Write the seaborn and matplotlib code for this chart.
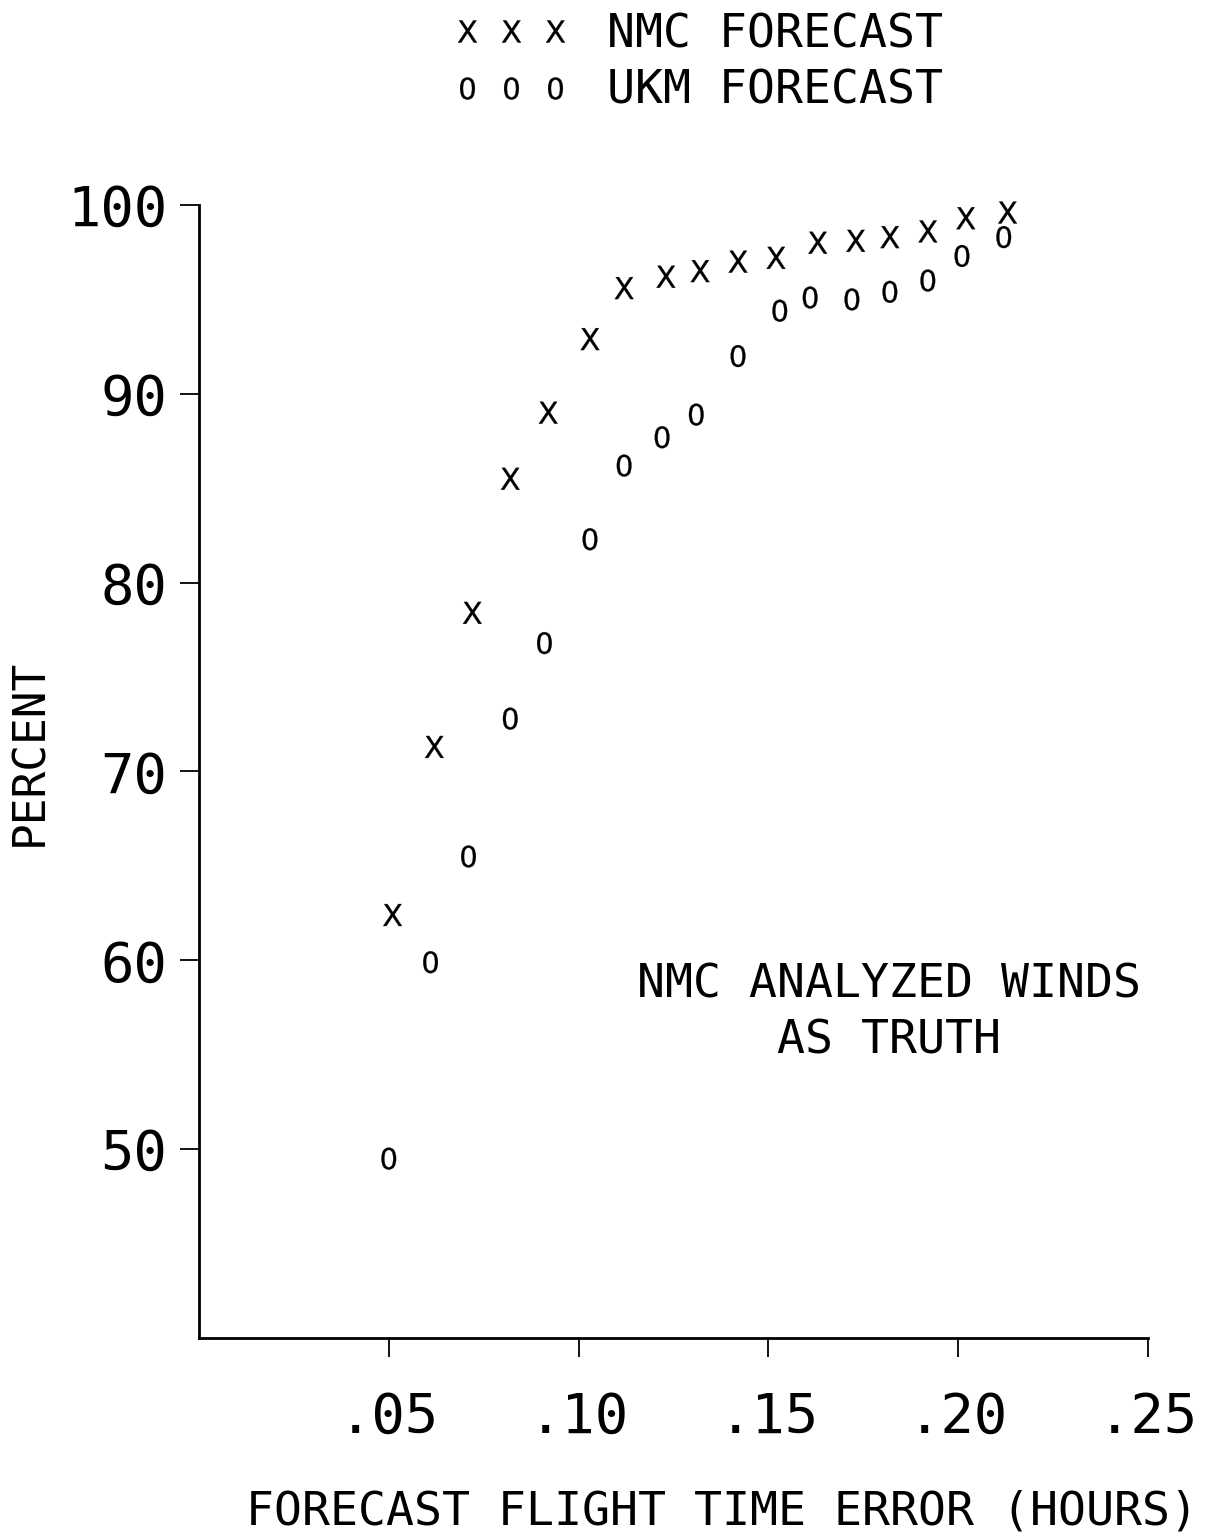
import numpy as np
import pandas as pd
import matplotlib.pyplot as plt
import seaborn as sns

# values
nmc_x = [0.051, 0.062, 0.072, 0.082, 0.092, 0.103, 0.112, 0.123, 0.132, 0.142,
         0.152, 0.163, 0.173, 0.182, 0.192, 0.202, 0.213]
nmc_pct = [62.4, 71.3, 78.4, 85.5, 89.0, 92.9, 95.6, 96.2, 96.5, 97.0,
           97.2, 98.0, 98.1, 98.3, 98.6, 99.3, 99.6]
ukm_x = [0.050, 0.061, 0.071, 0.082, 0.091, 0.103, 0.112, 0.122, 0.131, 0.142,
         0.153, 0.161, 0.172, 0.182, 0.192, 0.201, 0.212]
ukm_pct = [49.5, 59.9, 65.5, 72.8, 76.8, 82.3, 86.2, 87.7, 88.9, 92.0,
           94.4, 95.1, 95.0, 95.4, 96.0, 97.3, 98.3]

x_ticks = [0.05, 0.10, 0.15, 0.20, 0.25]
x_tick_labels = [".05", ".10", ".15", ".20", ".25"]
y_ticks = [50, 60, 70, 80, 90, 100]

df = pd.DataFrame({
    "error": nmc_x + ukm_x,
    "percent": nmc_pct + ukm_pct,
    "series": ["NMC FORECAST"] * len(nmc_x) + ["UKM FORECAST"] * len(ukm_x),
})

sns.set_style("white")
plt.rcParams['font.family'] = ['DejaVu Sans Mono', 'DejaVu Sans']
plt.rcParams['mathtext.fontset'] = 'dejavusans'
plt.rcParams['text.color'] = 'black'
plt.rcParams['axes.labelcolor'] = 'black'

fig = plt.figure(figsize=(12.24, 15.37), dpi=100)
ax = fig.add_axes([199 / 1224, 199 / 1537, 949 / 1224, 1133 / 1537])

sns.scatterplot(data=df, x="error", y="percent", style="series",
                markers={"NMC FORECAST": r"$\mathsf{X}$", "UKM FORECAST": r"$\mathsf{0}$"},
                color="black", edgecolor="black", linewidth=0.2, s=250,
                clip_on=False, ax=ax)

# rebuild legend: three markers per entry, no title, at the top
old = ax.get_legend()
handles = old.legend_handles
labels = [t.get_text() for t in old.get_texts()]
old.remove()
for h in handles:
    h.set_markersize(16)
    h.set_color("black")
fig.legend(handles, labels, numpoints=3, loc="upper left",
           bbox_to_anchor=(453 / 1224, 0.992), frameon=False,
           fontsize=33.5, handlelength=2.5, handletextpad=0.8,
           labelspacing=0.25, borderpad=0, borderaxespad=0)

ax.set_xlim(0, 0.25)
ax.set_ylim(40, 100)
ax.set_xticks(x_ticks)
ax.set_xticklabels(x_tick_labels)
ax.set_yticks(y_ticks)

for side in ["top", "right"]:
    ax.spines[side].set_visible(False)
for side in ["left", "bottom"]:
    ax.spines[side].set_linewidth(2)
    ax.spines[side].set_color("black")

ax.tick_params(axis="both", direction="out", length=14, width=1.3,
               colors="black", labelsize=40, bottom=True, left=True)
ax.tick_params(axis="x", pad=24)
ax.tick_params(axis="y", pad=9)

ax.set_xlabel("FORECAST FLIGHT TIME ERROR (HOURS)", fontsize=33.5)
ax.set_ylabel("PERCENT", fontsize=32)
ax.xaxis.set_label_coords(0.551, -0.154)
ax.xaxis.label.set_va("center")
ax.yaxis.set_label_coords(-0.178, 0.517)
ax.yaxis.label.set_va("center")

ax.text(0.727, 0.287, "NMC ANALYZED WINDS\nAS TRUTH", transform=ax.transAxes,
        ha="center", va="center", fontsize=33.5, linespacing=1.3)

plt.savefig("out.png", dpi=100)
